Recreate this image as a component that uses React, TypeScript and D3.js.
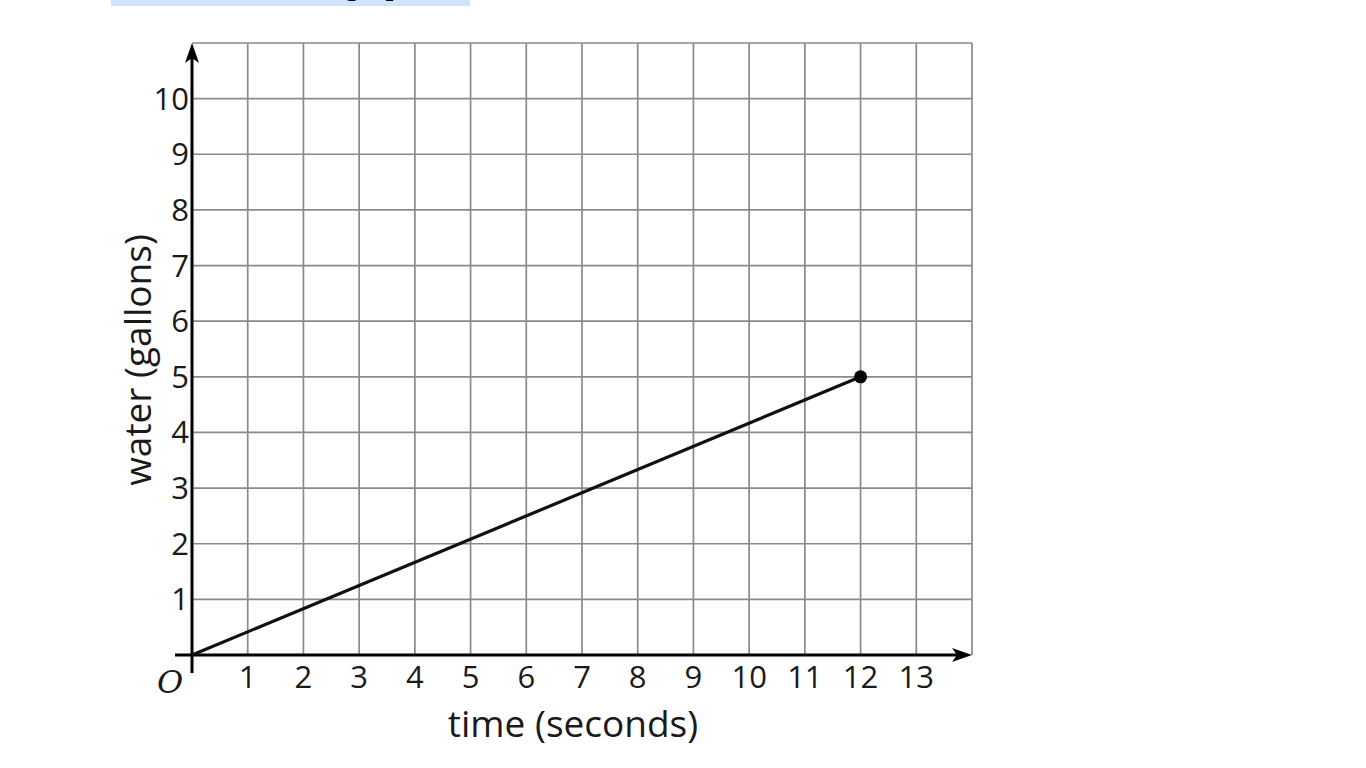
import React from "react";
import * as d3 from "d3";

const xTicks = [1, 2, 3, 4, 5, 6, 7, 8, 9, 10, 11, 12, 13];
const yTicks = [1, 2, 3, 4, 5, 6, 7, 8, 9, 10];
const lineData: [number, number][] = [
  [0, 0],
  [12, 5],
];
const endPoint: [number, number] = [12, 5];
const xLabel = "time (seconds)";
const yLabel = "water (gallons)";
const originLabel = "O";
const headerText = "graph";

export default function App() {
  const x = d3.scaleLinear().domain([0, 14]).range([192, 972]);
  const y = d3.scaleLinear().domain([0, 11]).range([655, 43]);
  const gridX = d3.range(1, 15);
  const gridY = d3.range(1, 12);
  const line = d3
    .line<[number, number]>()
    .x((d) => x(d[0]))
    .y((d) => y(d[1]));
  const font = "'Open Sans', 'Noto Sans', sans-serif";
  return (
    <svg
      width={1366}
      height={768}
      style={{ position: "absolute", left: 0, top: 0, background: "#fff" }}
    >
      <rect x={111} y={0} width={359} height={6} fill="#cfe3fa" />
      <text
        x={345}
        y={-5}
        fontFamily="'Liberation Serif', serif"
        fontWeight="bold"
        fontSize={28}
        fill="#000"
      >
        {headerText}
      </text>
      {gridX.map((v) => (
        <line
          key={"gx" + v}
          x1={x(v)}
          x2={x(v)}
          y1={y(0)}
          y2={y(11)}
          stroke="#8a8a8a"
          strokeWidth={1.7}
        />
      ))}
      {gridY.map((v) => (
        <line
          key={"gy" + v}
          x1={x(0)}
          x2={x(14)}
          y1={y(v)}
          y2={y(v)}
          stroke="#8a8a8a"
          strokeWidth={1.7}
        />
      ))}
      {/* axes */}
      <line x1={175} x2={x(14) - 8} y1={y(0)} y2={y(0)} stroke="#000" strokeWidth={3} />
      <line x1={x(0)} x2={x(0)} y1={673} y2={y(11) + 8} stroke="#000" strokeWidth={3} />
      <path
        d={`M${x(14)},${y(0)} L${x(14) - 20},${y(0) - 7} L${x(14) - 15},${y(0)} L${x(14) - 20},${y(0) + 7} Z`}
        fill="#000"
      />
      <path
        d={`M${x(0)},${y(11)} L${x(0) - 7},${y(11) + 20} L${x(0)},${y(11) + 15} L${x(0) + 7},${y(11) + 20} Z`}
        fill="#000"
      />
      <path d={line(lineData) || ""} fill="none" stroke="#111" strokeWidth={3.2} />
      <circle cx={x(endPoint[0])} cy={y(endPoint[1])} r={6.5} fill="#000" />
      {xTicks.map((v) => (
        <text
          key={"xt" + v}
          x={x(v)}
          y={688}
          textAnchor="middle"
          fontFamily={font}
          fontSize={31}
          fill="#1a1a1a"
        >
          {v}
        </text>
      ))}
      {yTicks.map((v) => (
        <text
          key={"yt" + v}
          x={189}
          y={y(v) + 11}
          textAnchor="end"
          fontFamily={font}
          fontSize={31}
          fill="#1a1a1a"
        >
          {v}
        </text>
      ))}
      <text
        x={170}
        y={693}
        textAnchor="middle"
        fontFamily="'DejaVu Serif', serif"
        fontStyle="italic"
        fontSize={32}
        fill="#1a1a1a"
      >
        {originLabel}
      </text>
      <text
        x={573}
        y={737}
        textAnchor="middle"
        fontFamily={font}
        fontSize={37}
        fill="#1a1a1a"
      >
        {xLabel}
      </text>
      <text
        transform={`translate(151,360) rotate(-90)`}
        textAnchor="middle"
        fontFamily={font}
        fontSize={37}
        fill="#1a1a1a"
      >
        {yLabel}
      </text>
    </svg>
  );
}
